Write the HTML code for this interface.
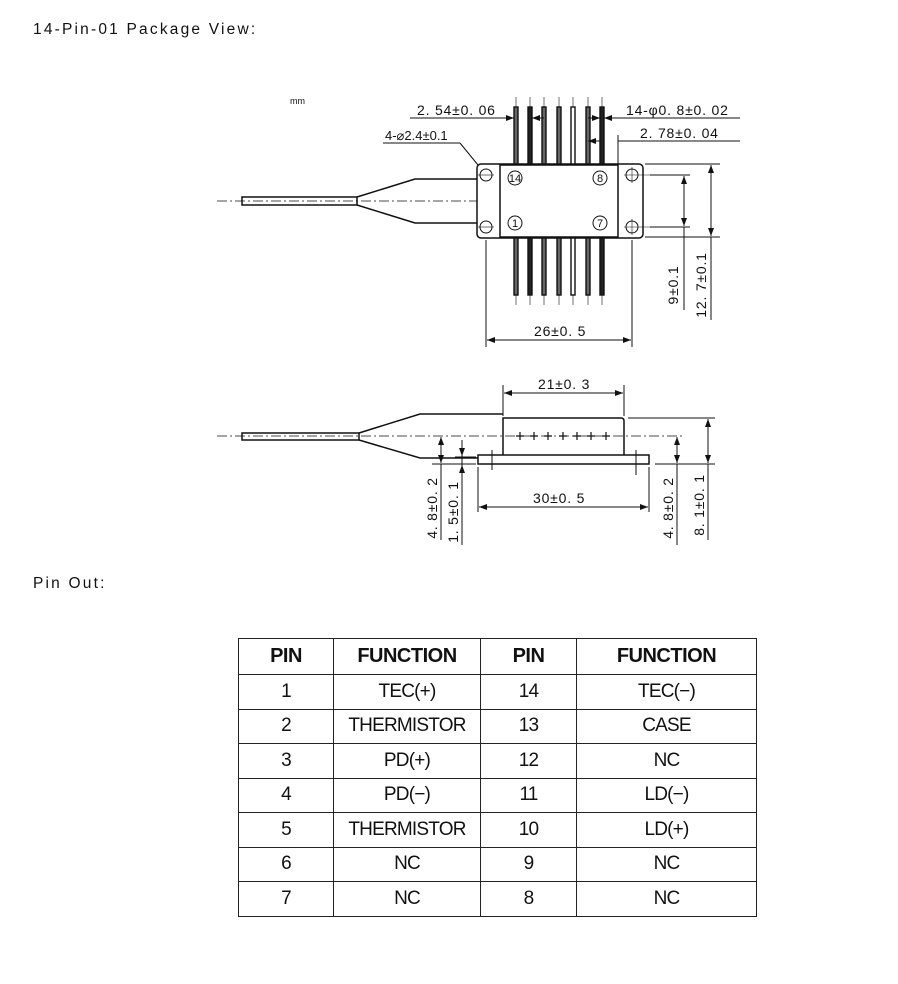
<!DOCTYPE html>
<html><head><meta charset="utf-8"><style>
html,body{margin:0;padding:0;background:#fff;}
body{width:898px;height:984px;position:relative;overflow:hidden;font-family:"Liberation Sans",sans-serif;}
.t{position:absolute;font-size:15.5px;letter-spacing:2.2px;color:#111;}
table{position:absolute;left:238px;top:638px;border-collapse:collapse;font-family:"Liberation Sans",sans-serif;}
td,th{border:1.5px solid #222;text-align:center;font-size:19px;padding:0;height:33px;color:#111;letter-spacing:-0.8px;}
th{font-weight:bold;font-size:20px;height:35px;letter-spacing:-0.5px;}
</style></head><body>
<div class="t" style="left:33px;top:21px;">14-Pin-01 Package View:</div>
<div class="t" style="left:33px;top:575px;">Pin Out:</div>
<svg width="898" height="600" style="position:absolute;left:0;top:0" font-family="Liberation Sans, sans-serif">
<defs><marker id="a" markerWidth="8" markerHeight="6" refX="8" refY="3" orient="auto-start-reverse"><path d="M0,0L8,3L0,6z" fill="#111"/></marker></defs>
<g stroke="#111" fill="none" stroke-width="1">
<!-- TOP VIEW -->
<g stroke-width="0.6"><line x1="516" y1="97" x2="516" y2="305"/><line x1="530" y1="97" x2="530" y2="305"/><line x1="544" y1="97" x2="544" y2="305"/><line x1="559" y1="97" x2="559" y2="305"/><line x1="573" y1="97" x2="573" y2="305"/><line x1="588" y1="97" x2="588" y2="305"/><line x1="602" y1="97" x2="602" y2="305"/></g>
<line x1="217" y1="201" x2="500" y2="201" stroke-dasharray="10,3,2,3" stroke-width="0.8"/>
<rect x="242" y="197" width="115" height="8" stroke-width="1.5"/>
<path d="M357,197L415,179H500M357,205L415,223H500" stroke-width="1.5"/>
<rect x="477" y="164" width="166" height="74" rx="4" stroke-width="1.5" fill="#fff"/>
<rect x="500" y="165" width="118" height="72" fill="#fff" stroke-width="1.5"/>
<circle cx="486" cy="175" r="6"/><circle cx="486" cy="227" r="6"/>
<circle cx="632" cy="175" r="6"/><circle cx="632" cy="227" r="6"/>
<g stroke-width="0.6"><line x1="478" y1="175" x2="494" y2="175"/><line x1="478" y1="227" x2="494" y2="227"/><line x1="624" y1="175" x2="650" y2="175"/><line x1="624" y1="227" x2="650" y2="227"/><line x1="632" y1="167" x2="632" y2="183"/><line x1="632" y1="219" x2="632" y2="235"/></g>
<g stroke-width="1.4" fill="#666">
<rect x="514" y="107" width="4" height="57"/><rect x="528" y="107" width="4" height="57" fill="#222"/><rect x="542" y="107" width="4" height="57"/><rect x="557" y="107" width="4" height="57"/><rect x="571" y="107" width="4" height="57" fill="#fff"/><rect x="586" y="107" width="4" height="57"/><rect x="600" y="107" width="4" height="57" fill="#222"/>
<rect x="514" y="238" width="4" height="57"/><rect x="528" y="238" width="4" height="57" fill="#222"/><rect x="542" y="238" width="4" height="57"/><rect x="557" y="238" width="4" height="57"/><rect x="571" y="238" width="4" height="57" fill="#fff"/><rect x="586" y="238" width="4" height="57"/><rect x="600" y="238" width="4" height="57" fill="#222"/>
</g>
<circle cx="515" cy="178" r="7"/><circle cx="600" cy="178" r="7"/><circle cx="515" cy="223" r="7"/><circle cx="600" cy="223" r="7"/>
<!-- dims top -->
<line x1="410" y1="118" x2="514" y2="118" marker-end="url(#a)"/>
<line x1="544" y1="118" x2="532" y2="118" marker-end="url(#a)"/>
<line x1="740" y1="118" x2="604" y2="118" marker-end="url(#a)"/>
<line x1="588" y1="118" x2="600" y2="118" marker-end="url(#a)"/>
<line x1="740" y1="141" x2="618" y2="141"/><line x1="618" y1="135" x2="618" y2="165"/>
<line x1="600" y1="141" x2="588" y2="141" marker-end="url(#a)"/>
<line x1="383" y1="143" x2="460" y2="143"/><line x1="460" y1="143" x2="478" y2="165"/>
<line x1="650" y1="175" x2="690" y2="175"/><line x1="650" y1="227" x2="690" y2="227"/>
<line x1="684" y1="200" x2="684" y2="176" marker-end="url(#a)"/><line x1="684" y1="200" x2="684" y2="226" marker-end="url(#a)"/><line x1="684" y1="227" x2="684" y2="310"/>
<line x1="645" y1="164" x2="720" y2="164"/><line x1="645" y1="237" x2="720" y2="237"/>
<line x1="711" y1="200" x2="711" y2="165" marker-end="url(#a)"/><line x1="711" y1="200" x2="711" y2="236" marker-end="url(#a)"/><line x1="711" y1="237" x2="711" y2="320"/>
<line x1="486" y1="240" x2="486" y2="347"/><line x1="632" y1="240" x2="632" y2="347"/>
<line x1="559" y1="340" x2="487" y2="340" marker-end="url(#a)"/><line x1="559" y1="340" x2="631" y2="340" marker-end="url(#a)"/>
<!-- SIDE VIEW -->
<line x1="217" y1="436" x2="685" y2="436" stroke-dasharray="10,3,2,3" stroke-width="0.8"/>
<rect x="242" y="433" width="117" height="7" stroke-width="1.5"/>
<path d="M359,433L420,414H503M359,440L420,458H478" stroke-width="1.5"/>
<path d="M503,455V418H621Q624,418 624,421V455" stroke-width="1.5"/>
<rect x="478" y="455" width="171" height="9" stroke-width="1.5"/>
<g stroke-width="1.2">
<path d="M516,436h8M520,432v8M530,436h8M534,432v8M544,436h8M548,432v8M559,436h8M563,432v8M573,436h8M577,432v8M587,436h8M591,432v8M602,436h8M606,432v8"/></g>
<line x1="503" y1="385" x2="503" y2="416"/><line x1="624" y1="385" x2="624" y2="416"/>
<line x1="563" y1="393" x2="504" y2="393" marker-end="url(#a)"/><line x1="563" y1="393" x2="623" y2="393" marker-end="url(#a)"/>
<line x1="478" y1="467" x2="478" y2="512"/><line x1="649" y1="467" x2="649" y2="512"/>
<line x1="563" y1="507" x2="479" y2="507" marker-end="url(#a)"/><line x1="563" y1="507" x2="648" y2="507" marker-end="url(#a)"/>
<line x1="492" y1="450" x2="492" y2="470"/><line x1="636" y1="450" x2="636" y2="475"/>
<line x1="432" y1="464" x2="476" y2="464"/><line x1="455" y1="457" x2="476" y2="457"/>
<line x1="441" y1="450" x2="441" y2="437" marker-end="url(#a)"/><line x1="441" y1="450" x2="441" y2="463" marker-end="url(#a)"/><line x1="441" y1="464" x2="441" y2="540"/>
<line x1="462" y1="446" x2="462" y2="456" marker-end="url(#a)"/><line x1="462" y1="472" x2="462" y2="465" marker-end="url(#a)"/><line x1="462" y1="440" x2="462" y2="545"/>
<line x1="628" y1="418" x2="715" y2="418"/><line x1="655" y1="464" x2="715" y2="464"/>
<line x1="677" y1="450" x2="677" y2="437" marker-end="url(#a)"/><line x1="677" y1="450" x2="677" y2="463" marker-end="url(#a)"/><line x1="677" y1="464" x2="677" y2="545"/>
<line x1="708" y1="440" x2="708" y2="419" marker-end="url(#a)"/><line x1="708" y1="440" x2="708" y2="463" marker-end="url(#a)"/><line x1="708" y1="464" x2="708" y2="540"/>
</g>
<g fill="#111" font-size="14" letter-spacing="0.8">
<text x="290" y="104" font-size="9" letter-spacing="0">mm</text>
<text x="417" y="115">2. 54±0. 06</text>
<text x="626" y="115">14-φ0. 8±0. 02</text>
<text x="640" y="138">2. 78±0. 04</text>
<text x="385" y="140" font-size="13" letter-spacing="0">4-⌀2.4±0.1</text>
<text x="534" y="336">26±0. 5</text>
<text x="538" y="389">21±0. 3</text>
<text x="533" y="503">30±0. 5</text>
<g font-size="11" text-anchor="middle" letter-spacing="0">
<text x="515" y="182">14</text><text x="600" y="182">8</text><text x="515" y="227">1</text><text x="600" y="227">7</text></g>
<text transform="translate(678,285) rotate(-90)" text-anchor="middle">9±0.1</text>
<text transform="translate(706,285) rotate(-90)" text-anchor="middle">12. 7±0.1</text>
<text transform="translate(437,508) rotate(-90)" text-anchor="middle">4. 8±0. 2</text>
<text transform="translate(458,512) rotate(-90)" text-anchor="middle">1. 5±0. 1</text>
<text transform="translate(673,508) rotate(-90)" text-anchor="middle">4. 8±0. 2</text>
<text transform="translate(704,505) rotate(-90)" text-anchor="middle">8. 1±0. 1</text>
</g>
</svg>
<table>
<colgroup><col style="width:95px"><col style="width:147px"><col style="width:96px"><col style="width:180px"></colgroup>
<tr><th>PIN</th><th>FUNCTION</th><th>PIN</th><th>FUNCTION</th></tr>
<tr><td>1</td><td>TEC(+)</td><td>14</td><td>TEC(−)</td></tr>
<tr><td>2</td><td>THERMISTOR</td><td>13</td><td>CASE</td></tr>
<tr><td>3</td><td>PD(+)</td><td>12</td><td>NC</td></tr>
<tr><td>4</td><td>PD(−)</td><td>11</td><td>LD(−)</td></tr>
<tr><td>5</td><td>THERMISTOR</td><td>10</td><td>LD(+)</td></tr>
<tr><td>6</td><td>NC</td><td>9</td><td>NC</td></tr>
<tr><td>7</td><td>NC</td><td>8</td><td>NC</td></tr>
</table>
<style>td{height:33.5px}</style>
</body></html>
